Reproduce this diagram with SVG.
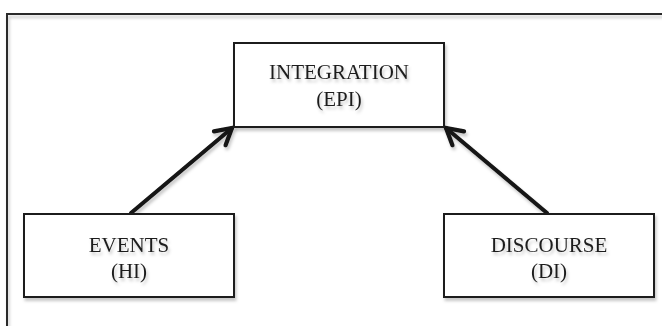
<svg xmlns="http://www.w3.org/2000/svg" width="662" height="326" viewBox="0 0 662 326">
  <style>
    .box { fill: #ffffff; stroke: #1e1e1e; stroke-width: 2; filter: url(#soft); }
    .label { font-family: "Liberation Serif", "Times New Roman", serif; font-size: 21px; fill: #1e1e1e; text-anchor: middle; filter: url(#soft); }
    .link { stroke: #141414; stroke-width: 4; fill: none; stroke-linecap: round; marker-end: url(#chevron); filter: url(#soft); }
  </style>
  <defs>
    <filter id="soft" x="-20%" y="-20%" width="140%" height="160%">
      <feDropShadow dx="1.5" dy="3" stdDeviation="1.8" flood-color="#000000" flood-opacity="0.22"/>
    </filter>
    <marker id="chevron" markerUnits="userSpaceOnUse" markerWidth="30" markerHeight="30" refX="0" refY="0" viewBox="-20 -15 30 30" orient="auto" overflow="visible">
      <path d="M -16,-9 L 0,0 L -16,9" fill="none" stroke="#141414" stroke-width="4.2" stroke-linecap="round" stroke-linejoin="miter"/>
    </marker>
  </defs>

  <rect width="662" height="326" fill="#ffffff"/>

  <!-- outer frame, running past the right and bottom edges -->
  <rect id="frame" x="7" y="14" width="700" height="360" fill="none" stroke="#2a2a2a" stroke-width="2" filter="url(#soft)"/>

  <g id="connectors">
    <line class="link" x1="131" y1="213" x2="232" y2="128"/>
    <line class="link" x1="547" y1="213" x2="446" y2="128"/>
  </g>

  <g id="integration">
    <rect class="box" x="234" y="43" width="210" height="84"/>
    <text class="label" x="339" y="79">INTEGRATION</text>
    <text class="label" x="339" y="106">(EPI)</text>
  </g>

  <g id="events">
    <rect class="box" x="24" y="214" width="210" height="83"/>
    <text class="label" x="129" y="252">EVENTS</text>
    <text class="label" x="129" y="278">(HI)</text>
  </g>

  <g id="discourse">
    <rect class="box" x="444" y="214" width="210" height="83"/>
    <text class="label" x="549" y="252">DISCOURSE</text>
    <text class="label" x="549" y="278">(DI)</text>
  </g>
</svg>
